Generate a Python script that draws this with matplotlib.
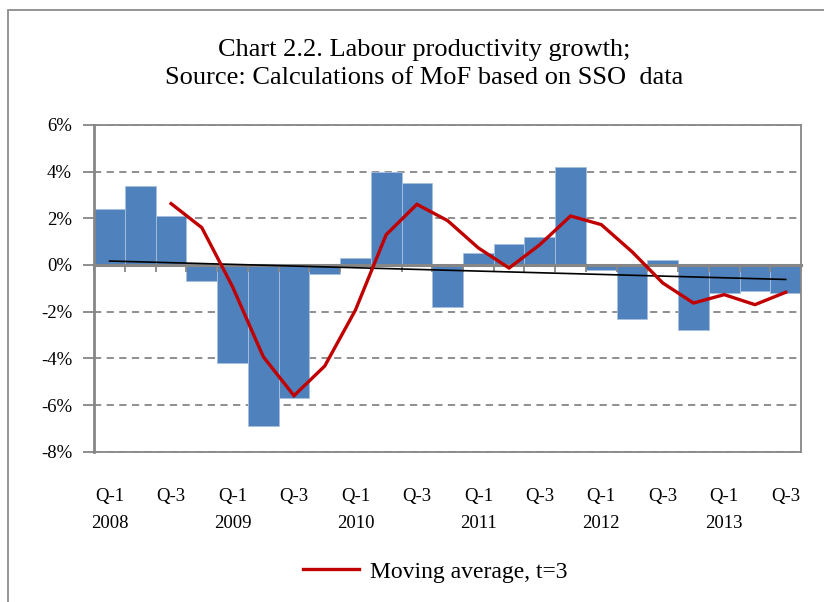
import numpy as np
import matplotlib
matplotlib.use('Agg')
import matplotlib.pyplot as plt
from matplotlib.patches import Rectangle
from matplotlib.lines import Line2D
from matplotlib.ticker import FuncFormatter

plt.rcParams['font.family'] = ['Liberation Serif', 'DejaVu Serif']

# quarterly data, 2008 Q1 - 2013 Q3
quarters = ['Q-1\n2008', 'Q-2', 'Q-3', 'Q-4',
            'Q-1\n2009', 'Q-2', 'Q-3', 'Q-4',
            'Q-1\n2010', 'Q-2', 'Q-3', 'Q-4',
            'Q-1\n2011', 'Q-2', 'Q-3', 'Q-4',
            'Q-1\n2012', 'Q-2', 'Q-3', 'Q-4',
            'Q-1\n2013', 'Q-2', 'Q-3']
growth = [2.4, 3.4, 2.1, -0.7,
          -4.2, -6.9, -5.7, -0.4,
          0.3, 4.0, 3.5, -1.8,
          0.5, 0.9, 1.2, 4.2,
          -0.2, -2.3, 0.2, -2.8,
          -1.2, -1.1, -1.2]
# moving average (t=3), first value at 2008 Q3
mov_avg = [2.63, 1.6, -0.93, -3.93, -5.6, -4.33, -1.93, 1.3, 2.6,
           1.9, 0.73, -0.13, 0.87, 2.1, 1.73, 0.57, -0.77, -1.63,
           -1.27, -1.7, -1.17]
trend = [0.17, -0.62]   # linear trend, first and last quarter

bar_col = '#4F81BD'
ma_col = '#C00000'
grey = '#868686'

fig = plt.figure(figsize=(8.24, 6.02), dpi=100)
ax = fig.add_axes([0.1144, 0.2497, 0.8577, 0.5427])

x = np.arange(len(growth))
ax.bar(x, growth, width=1.0, color=bar_col, edgecolor='#A7C0DE', linewidth=0.6, zorder=2)
x_ma = x[len(growth) - len(mov_avg):]
ax.plot(x_ma, mov_avg, color=ma_col, lw=2.4, zorder=5, solid_joinstyle='miter')
ax.plot([x[0], x[-1]], trend, color='black', lw=1.2, zorder=4)

ymin, ymax = -8, 6
ax.set_ylim(ymin, ymax)
ax.set_xlim(-0.5, len(growth) - 0.5)
ax.set_yticks(np.arange(ymin, ymax + 1, 2))
ax.yaxis.set_major_formatter(FuncFormatter(lambda v, p: '%d%%' % v))
ax.grid(axis='y', color=grey, ls=(0, (4, 3)), lw=1.3, zorder=1)
ax.set_axisbelow(True)

for s in ax.spines.values():
    s.set_color(grey)
    s.set_linewidth(1.3)
ax.spines['left'].set_linewidth(2.0)

ax.tick_params(axis='y', direction='out', length=8, width=1.3, color=grey,
               labelsize=13.5, pad=8)
ax.set_xticks(x[::2])
ax.set_xticklabels(quarters[::2])
ax.tick_params(axis='x', length=0, labelsize=13.5, pad=26)
for t in ax.get_xticklabels():
    t.set_linespacing(1.8)

# category axis crossing at zero
zero_frac = (0 - ymin) / (ymax - ymin)
sec = ax.secondary_xaxis(zero_frac)
sec.set_zorder(3)
sec.set_xticks(np.arange(-0.5, len(growth), 1.0))
sec.tick_params(axis='x', direction='out', length=5, width=1.3, color=grey,
                labelbottom=False, labeltop=False, bottom=True, top=False)
for s in sec.spines.values():
    s.set_color(grey)
    s.set_linewidth(2.2)
sec.xaxis.set_ticks_position('bottom')
sec.set_xticklabels([])

fig.text(0.515, 0.893, 'Chart 2.2. Labour productivity growth;\nSource: Calculations of MoF based on SSO  data',
         ha='center', va='center', fontsize=19, linespacing=1.35)

handle = Line2D([], [], color=ma_col, lw=2.4)
fig.legend([handle], ['Moving average, t=3'], loc='center', bbox_to_anchor=(0.528, 0.05),
           frameon=False, fontsize=17, handlelength=2.4, handletextpad=0.45)

fig.add_artist(Rectangle((8 / 824, -0.1), 1.2, 1.1 - 10 / 602, transform=fig.transFigure,
                         fill=False, ec='#8c8c8c', lw=1.3))

fig.savefig('out.png', dpi=100)
